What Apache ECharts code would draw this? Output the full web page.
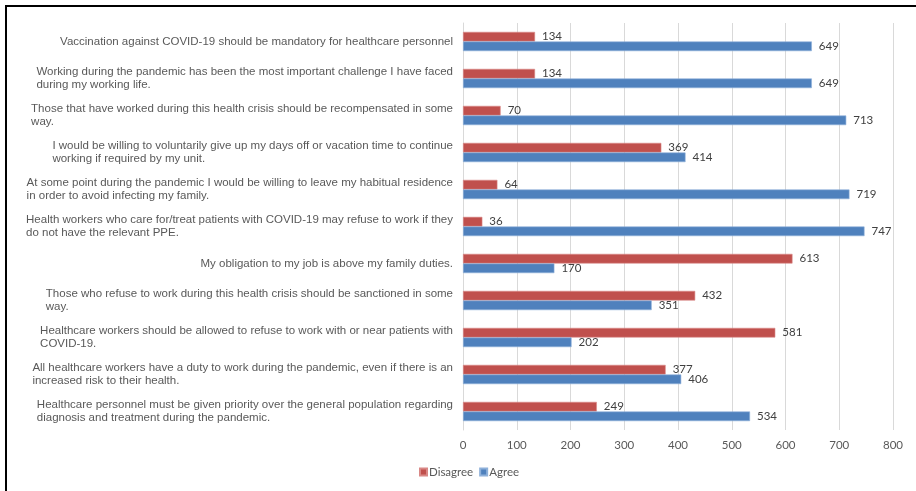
<!DOCTYPE html>
<html>
<head>
<meta charset="utf-8">
<script src="https://cdn.jsdelivr.net/npm/echarts@6/dist/echarts.min.js"></script>
<style>
html,body{margin:0;padding:0;background:#fff;}
#frame{position:absolute;left:5px;top:5px;width:911px;height:486px;border-left:2px solid #000;border-top:2px solid #000;box-sizing:border-box;}
#chart{position:absolute;left:0;top:0;width:916px;height:491px;}
</style>
</head>
<body>
<div id="frame"></div>
<div id="chart"></div>
<script>
var categories = [
  "Vaccination against COVID-19 should be mandatory for healthcare personnel",
  "Working during the pandemic has been the most important challenge I have faced\nduring my working life.",
  "Those that have worked during this health crisis should be recompensated in some\nway.",
  "I would be willing to voluntarily give up my days off or vacation time to continue\nworking if required by my unit.",
  "At some point during the pandemic I would be willing to leave my habitual residence\nin order to avoid infecting my family.",
  "Health workers who care for/treat patients with COVID-19 may refuse to work if they\ndo not have the relevant PPE.",
  "My obligation to my job is above my family duties.",
  "Those who refuse to work during this health crisis should be sanctioned in some\nway.",
  "Healthcare workers should be allowed to refuse to work with or near patients with\nCOVID-19.",
  "All healthcare workers have a duty to work during the pandemic, even if there is an\nincreased risk to their health.",
  "Healthcare personnel must be given priority over the general population regarding\ndiagnosis and treatment during the pandemic."
];
var disagree = [134, 134, 70, 369, 64, 36, 613, 432, 581, 377, 249];
var agree = [649, 649, 713, 414, 719, 747, 170, 351, 202, 406, 534];
var xTicks = [0, 100, 200, 300, 400, 500, 600, 700, 800];

var chart = echarts.init(document.getElementById('chart'));
var labelStyle = {
  show: true, position: 'right', distance: 7,
  color: '#404040', fontFamily: 'Lato', fontSize: 11.5
};
chart.setOption({
  animation: false,
  grid: {left: 463, right: 23, top: 23, bottom: 61},
  legend: {
    data: ['Disagree', 'Agree'],
    left: 414, top: 461,
    itemWidth: 7, itemHeight: 7, itemGap: 6,
    icon: 'rect',
    textStyle: {color: '#595959', fontFamily: 'Lato', fontSize: 11.5, padding: [0,0,0,-3]}
  },
  xAxis: {
    type: 'value', min: xTicks[0], max: xTicks[xTicks.length-1], interval: 100,
    axisLine: {show: false}, axisTick: {show: false},
    splitLine: {show: true, lineStyle: {color: '#D9D9D9', width: 1}},
    axisLabel: {color: '#595959', fontFamily: 'Lato', fontSize: 11.5, margin: 9}
  },
  yAxis: {
    type: 'category', data: categories, inverse: true,
    axisLine: {show: true, lineStyle: {color: '#D9D9D9'}},
    axisTick: {show: false},
    axisLabel: {
      margin: 10, interval: 0,
      formatter: function (v) {
        return v.split('\n').map(function (l) { return '{a|' + l + '}'; }).join('\n');
      },
      rich: {a: {align: 'left', color: '#595959', fontFamily: 'Liberation Sans', fontSize: 11.5, lineHeight: 13}}
    }
  },
  series: [
    {name: 'Disagree', type: 'bar', data: disagree, barGap: '0%', barCategoryGap: '48%',
     itemStyle: {color: '#C0504D', borderColor: '#D98886', borderWidth: 0.6},
     label: labelStyle},
    {name: 'Agree', type: 'bar', data: agree, barGap: '0%', barCategoryGap: '48%',
     itemStyle: {color: '#4F81BD', borderColor: '#8EB0DA', borderWidth: 0.6},
     label: labelStyle}
  ]
});
</script>
</body>
</html>
